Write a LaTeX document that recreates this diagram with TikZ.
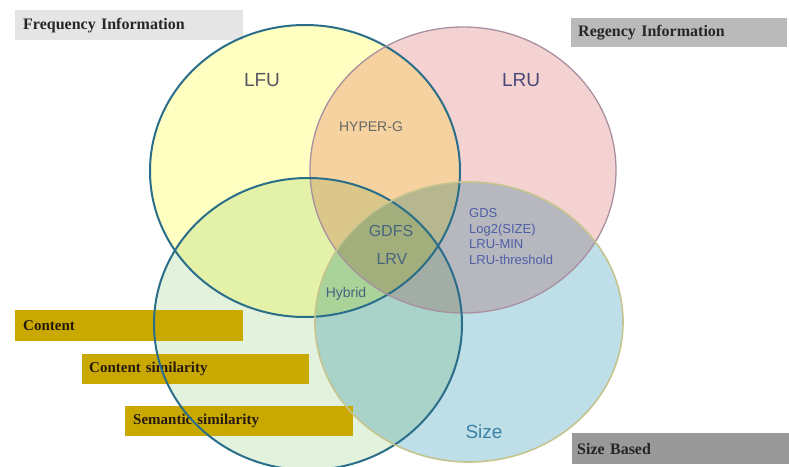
\documentclass[tikz,border=0pt]{standalone}
\usepackage{fontspec}
\setmainfont{Liberation Serif}
\setsansfont{Liberation Sans}

\definecolor{lfufill}{HTML}{FFFFC2}
\definecolor{lrufill}{HTML}{F5D2D2}
\definecolor{contentfill}{HTML}{E3F2DD}
\definecolor{sizefill}{HTML}{BEDFE8}
\definecolor{tealline}{HTML}{2A6E8A}
\definecolor{lruline}{HTML}{A890A0}
\definecolor{sizeline}{HTML}{C5C48E}
\definecolor{goldbox}{HTML}{C9A800}
\definecolor{greytext}{HTML}{555560}
\definecolor{slatetext}{HTML}{46657F}
\definecolor{bluetext}{HTML}{4E5FA6}

\tikzset{
  labelbox/.style={anchor=north west, inner xsep=8pt, inner ysep=0pt,
    minimum height=30pt, text width=212pt, align=left,
    font=\bfseries\fontsize{16}{18}\selectfont, text=black!85},
  goldlabel/.style={labelbox, fill=goldbox, text=black!80!brown,
    font=\bfseries\fontsize{15}{18}\selectfont},
  setname/.style={font=\sffamily\fontsize{19}{22}\selectfont, text=greytext},
  setpart/.style={font=\sffamily\fontsize{15}{18}\selectfont, text=slatetext}
}

\begin{document}
\begin{tikzpicture}[x=1pt,y=-1pt]
\useasboundingbox (0,0) rectangle (789,466);

% circle fills
\begin{scope}[blend group=multiply]
\fill[lfufill] (305,171) ellipse (155 and 146);
\fill[lrufill] (463,170) ellipse (153 and 143);
\fill[contentfill] (308,324) ellipse (154 and 146);
\fill[sizefill] (469,322) ellipse (154 and 140);
\end{scope}

% header boxes
\node (freq) [labelbox, fill=black!10] at (15,10) {Frequency Information};
\node (regency) [labelbox, fill=black!27, text width=202pt, inner xsep=7pt, minimum height=29pt] at (571,18) {Regency Information};
\node (sizebased) [labelbox, fill=black!40, text width=207pt, inner xsep=5pt, minimum height=31pt] at (572,433) {Size Based};

% content boxes
\node (content) [goldlabel, minimum height=31pt] at (15,310) {Content};
\node (contsim) [goldlabel, text width=213pt, inner xsep=7pt] at (82,354) {Content similarity};
\node (semsim) [goldlabel] at (125,406) {Semantic similarity};

% circle borders
\draw[tealline, line width=2] (305,171) ellipse (155 and 146);
\draw[lruline, line width=1.3] (463,170) ellipse (153 and 143);
\draw[tealline, line width=2] (308,324) ellipse (154 and 146);
\draw[sizeline, line width=1.6] (469,322) ellipse (154 and 140);

% set names
\node (lfu) [setname] at (262,80) {LFU};
\node (lru) [setname, text=greytext!85!blue] at (521,80) {LRU};
\node (size) [setname, text=slatetext!60!bluetext!80!cyan] at (484,432) {Size};

% policies
\node (hyperg) [setpart, font=\sffamily\fontsize{14}{16}\selectfont, text=black!60] at (371,127) {HYPER-G};
\node (gdfs) [setpart, font=\sffamily\fontsize{16}{18}\selectfont] at (391,231) {GDFS};
\node (lrv) [setpart, font=\sffamily\fontsize{16}{18}\selectfont] at (392,259) {LRV};
\node (hybrid) [setpart, font=\sffamily\fontsize{14}{16}\selectfont] at (346,294) {Hybrid};
\node (gds) [anchor=west, align=left, inner sep=0pt, text=bluetext,
  font=\sffamily\fontsize{13}{15.5}\selectfont] at (469,236.5)
  {GDS\\Log2(SIZE)\\LRU-MIN\\LRU-threshold};

\end{tikzpicture}
\end{document}
